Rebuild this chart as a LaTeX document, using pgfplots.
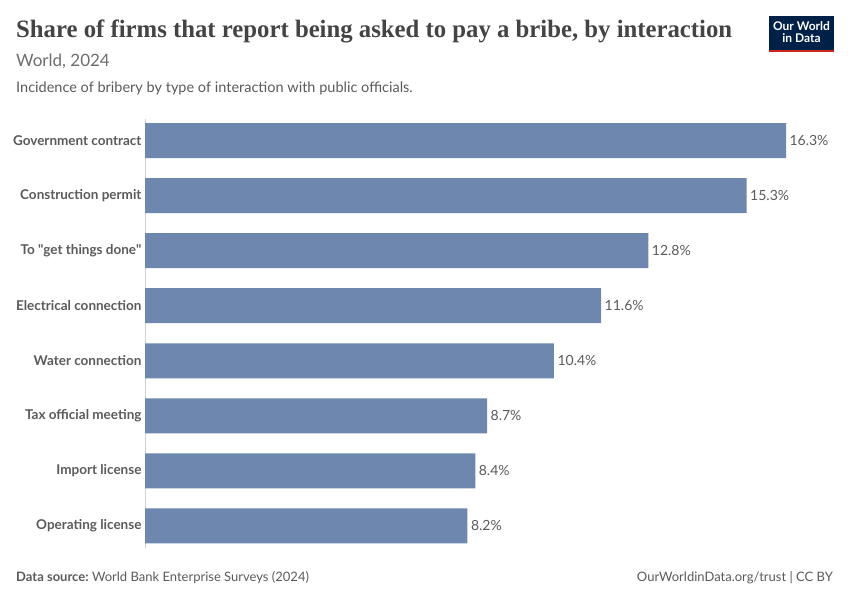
\documentclass[border=0pt]{standalone}
\usepackage{pgfplots}
\pgfplotsset{compat=1.18}
\usepackage{graphicx}
\usepackage{fontspec}
\setmainfont{Lato}
\newfontfamily\titlefont{Liberation Serif}
\definecolor{barc}{HTML}{6D87AF}
\definecolor{lab}{HTML}{5B5B5B}
\definecolor{ttl}{HTML}{444444}
\definecolor{sub}{HTML}{6E6E6E}
\definecolor{owidblue}{HTML}{002147}
\definecolor{owidred}{HTML}{CE261E}
\begin{document}
\begin{tikzpicture}[x=1pt,y=1pt]
\path[fill=white] (0,0) rectangle (850,600);
% header
\node[anchor=base west, inner sep=0, text=ttl] at (16,562.5) {\resizebox{716pt}{\height}{\titlefont\bfseries\fontsize{25}{25}\selectfont Share of firms that report being asked to pay a bribe, by interaction}};
\node[anchor=base west, inner sep=0, text=sub] at (16,533.5) {\fontsize{17}{17}\selectfont World, 2024};
\node[anchor=base west, inner sep=0, text=lab] at (16,507.5) {\fontsize{14.5}{14.5}\selectfont Incidence of bribery by type of interaction with public officials.};
% logo
\fill[owidblue] (769,550) rectangle (834,584.3);
\fill[owidred] (769,547.7) rectangle (834,550);
\node[anchor=base, inner sep=0, text=white] at (801.5,569) {\bfseries\fontsize{12}{12}\selectfont Our World};
\node[anchor=base, inner sep=0, text=white] at (801.5,557.7) {\bfseries\fontsize{12}{12}\selectfont in Data};
% footer
\node[anchor=base west, inner sep=0, text=lab] at (16,19) {\fontsize{13}{13}\selectfont\textbf{Data source:}\hspace{-1pt} World Bank Enterprise Surveys (2024)};
\node[anchor=base east, inner sep=0, text=lab] at (833,19) {\fontsize{13}{13}\selectfont OurWorldinData.org/trust | CC BY};
\begin{axis}[
  at={(145pt,52pt)}, anchor=south west,
  scale only axis, width=641pt, height=429.5pt,
  xbar, xmin=0, xmax=16.3, ymin=-0.4, ymax=7.4, y dir=reverse,
  bar width=35pt,
  hide x axis, axis y line*=left,
  y axis line style={draw=black!18, line width=0.8pt, -},
  ytick={0,...,7},
  yticklabels={Government contract, Construction permit, {To \textquotedbl get things done\textquotedbl}, Electrical connection, Water connection, Tax official meeting, Import license, Operating license},
  major tick length=0pt,
  yticklabel style={font=\bfseries\fontsize{13.5}{13.5}\selectfont, text=lab},
  point meta=x,
  nodes near coords={\pgfmathprintnumber[fixed,precision=1,fixed zerofill,assume math mode=true]{\pgfplotspointmeta}\%},
  nodes near coords style={font=\fontsize{14}{14}\selectfont, text=lab, anchor=west},
  clip=false,
]
\addplot[draw=none, fill=barc] coordinates {(16.3,0) (15.3,1) (12.8,2) (11.6,3) (10.4,4) (8.7,5) (8.4,6) (8.2,7)};
\end{axis}
\end{tikzpicture}
\end{document}
